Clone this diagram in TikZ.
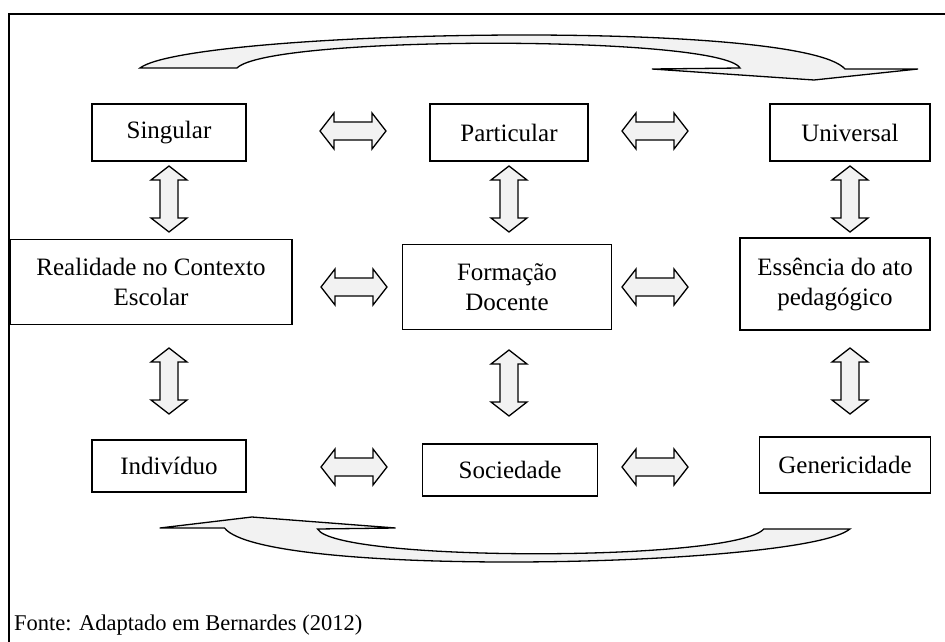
\documentclass[tikz,border=0pt]{standalone}
\usepackage{fontspec}
\setmainfont{Liberation Serif}

\tikzset{
  box/.style={draw, line width=1.6pt, align=center, inner sep=2pt,
    font=\fontsize{25}{30}\selectfont},
  bigarr/.style={draw, fill=black!5, line width=1.3pt, line join=miter},
  dblarrow/.pic={
    \draw[fill=black!5, line width=1.3pt]
      (-33,0) -- (-19,-18) -- (-19,-9) -- (19,-9) -- (19,-18) -- (33,0)
      -- (19,18) -- (19,9) -- (-19,9) -- (-19,18) -- cycle;
  },
}

\begin{document}
\begin{tikzpicture}[x=1pt,y=-1pt,font=\fontsize{22.5}{27}\selectfont]
    \useasboundingbox (0,0) rectangle (945,642);
    \draw[line width=2pt] (9,642) -- (9,14) -- (945,14);

    % top row
    \node[box, minimum width=154pt, minimum height=57pt] (sing) at (169,132.5) {Singular};
    \node[box, minimum width=158pt, minimum height=57pt] (part) at (509,132.5) {Particular};
    \node[box, minimum width=160pt, minimum height=57pt] (univ) at (850,132.5) {Universal};

    % middle row
    \node[box, minimum width=282pt, minimum height=85pt] (real) at (151,282) {Realidade no Contexto\\Escolar};
    \node[box, minimum width=209pt, minimum height=85pt] (form) at (507,287) {Formação\\Docente};
    \node[box, minimum width=190pt, minimum height=92pt] (esse) at (835,284) {Essência do ato\\pedagógico};

    % bottom row
    \node[box, minimum width=154pt, minimum height=52pt] (indi) at (169,466) {Indivíduo};
    \node[box, minimum width=175pt, minimum height=52pt] (soci) at (510,470) {Sociedade};
    \node[box, minimum width=171pt, minimum height=56pt] (gene) at (845,465) {Genericidade};

    % horizontal double arrows
    \pic (sp) at (353,131) {dblarrow};
    \pic (pu) at (655,131) {dblarrow};
    \pic (rf) at (354,287) {dblarrow};
    \pic (fe) at (655,287) {dblarrow};
    \pic (is) at (354,467) {dblarrow};
    \pic (sg) at (655,467) {dblarrow};

    % vertical double arrows
    \pic[rotate=90] (sr) at (169,199) {dblarrow};
    \pic[rotate=90] (pf) at (509,199) {dblarrow};
    \pic[rotate=90] (ue) at (850,199) {dblarrow};
    \pic[rotate=90] (ri) at (169,381) {dblarrow};
    \pic[rotate=90] (fs) at (509,383) {dblarrow};
    \pic[rotate=90] (eg) at (850,381) {dblarrow};

    % curved arrow on top
    \draw[bigarr] (140,68) .. controls (190,30) and (800,18) .. (845,69)
      -- (918,69) -- (814,80) -- (652,69) -- (740,68)
      .. controls (720,35) and (270,35) .. (237,68) -- cycle;

    % curved arrow at the bottom
    \begin{scope}[shift={(974,597)}, xscale=-0.887, yscale=-1]
      \draw[bigarr] (140,68) .. controls (190,30) and (800,18) .. (845,69)
        -- (918,69) -- (814,80) -- (652,69) -- (740,68)
        .. controls (720,35) and (270,35) .. (237,68) -- cycle;
    \end{scope}

    \node[anchor=base west, inner sep=0pt] (fonte) at (14,630) {Fonte: Adaptado em Bernardes (2012)};
\end{tikzpicture}
\end{document}
